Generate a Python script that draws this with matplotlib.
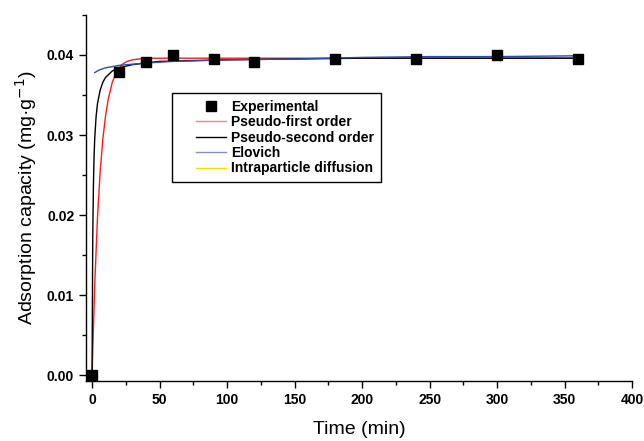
import matplotlib
matplotlib.use("Agg")
import matplotlib.pyplot as plt
from matplotlib.lines import Line2D
from matplotlib.legend_handler import HandlerLine2D
from matplotlib.ticker import MultipleLocator, FormatStrFormatter

# experimental points
t_exp = [0, 20, 40, 60, 90, 120, 180, 240, 300, 360]
q_exp = [0.0, 0.0379, 0.0391, 0.0400, 0.0395, 0.0391, 0.0395, 0.0395, 0.0400, 0.0395]

# pseudo-first order curve
t_pfo = [0, 2, 4, 6, 8, 10, 12, 15, 18, 22, 26, 30, 40, 60, 100, 200, 360]
q_pfo = [0.0, 0.0114, 0.0196, 0.0254, 0.0295, 0.0324, 0.0345, 0.0366, 0.0378,
         0.0388, 0.0392, 0.0394, 0.0396, 0.0396, 0.0396, 0.0396, 0.0396]

# pseudo-second order curve
t_pso = [0, 0.5, 1, 1.5, 2, 3, 4, 6, 8, 10, 15, 20, 30, 50, 100, 200, 360]
q_pso = [0.0, 0.0168, 0.0236, 0.0273, 0.0296, 0.0323, 0.0339, 0.0356, 0.0366,
         0.0372, 0.0380, 0.0384, 0.0388, 0.0392, 0.0394, 0.0396, 0.0396]

# Elovich curve
t_elo = [2, 5, 10, 20, 40, 60, 100, 150, 200, 250, 300, 360]
q_elo = [0.0378, 0.0381, 0.0384, 0.0387, 0.0390, 0.0392, 0.0394, 0.0395,
         0.0397, 0.0398, 0.0398, 0.0399]

plt.rcParams["font.family"] = ["Liberation Sans", "DejaVu Sans"]

fig = plt.figure(figsize=(6.44, 4.41), dpi=100)
ax = fig.add_axes([0.1335, 0.136, 0.848, 0.830])

ax.plot(t_pfo, q_pfo, color="#ff1a1a", lw=1.0, zorder=2)
ax.plot(t_pso, q_pso, color="black", lw=1.0, zorder=3)
ax.plot(t_elo, q_elo, color="#2a4fa8", lw=1.0, zorder=4)
ax.plot(t_exp, q_exp, "s", color="black", ms=7, zorder=5)

ax.set_xlim(-4.5, 400)
ax.set_ylim(-0.00075, 0.045)
ax.xaxis.set_major_locator(MultipleLocator(50))
ax.xaxis.set_minor_locator(MultipleLocator(25))
ax.yaxis.set_major_locator(MultipleLocator(0.01))
ax.yaxis.set_minor_locator(MultipleLocator(0.005))
ax.yaxis.set_major_formatter(FormatStrFormatter("%.2f"))

for s in ["top", "right"]:
    ax.spines[s].set_visible(False)
for s in ["left", "bottom"]:
    ax.spines[s].set_linewidth(1.0)

ax.tick_params(which="major", direction="out", length=5, width=1, labelsize=10)
ax.tick_params(which="minor", direction="out", length=3, width=1)
for lbl in ax.get_xticklabels() + ax.get_yticklabels():
    lbl.set_fontweight("bold")

ax.set_xlabel("Time (min)", fontsize=14, labelpad=10)
ax.set_ylabel("Adsorption capacity (mg·g$^{-1}$)", fontsize=14, labelpad=6)

handles = [
    Line2D([], [], ls="none", marker="s", color="black", ms=7),
    Line2D([], [], color="#ff8080", lw=1.0),
    Line2D([], [], color="black", lw=1.0),
    Line2D([], [], color="#8090c8", lw=1.0),
    Line2D([], [], color="#f0e000", lw=1.0),
]
labels = ["Experimental", "Pseudo-first order", "Pseudo-second order",
          "Elovich", "Intraparticle diffusion"]
leg = ax.legend(handles, labels, loc="upper left", bbox_to_anchor=(0.1575, 0.787),
                fancybox=False, edgecolor="black", framealpha=1,
                prop={"size": 10, "weight": "bold"}, handlelength=3.4,
                handletextpad=0.35, labelspacing=0.1, borderpad=0.5,
                borderaxespad=0,
                handler_map={Line2D: HandlerLine2D(xpad=1.2)})
leg.get_frame().set_linewidth(1.0)

fig.savefig("out.png", dpi=100)
